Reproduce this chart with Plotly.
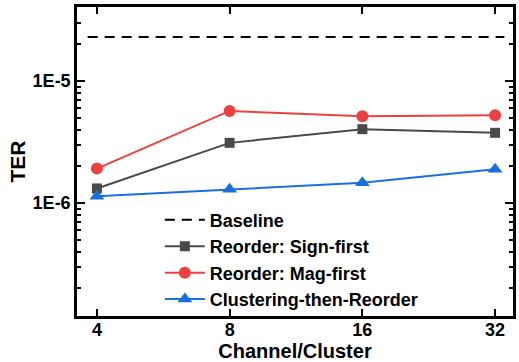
import plotly.graph_objects as go
import numpy as np

categories = ["4", "8", "16", "32"]
sign_first = [1.32e-6, 3.12e-6, 4.04e-6, 3.77e-6]
mag_first = [1.92e-6, 5.7e-6, 5.16e-6, 5.26e-6]
clustering = [1.14e-6, 1.3e-6, 1.47e-6, 1.9e-6]
baseline_value = 2.3e-5

xpos = list(range(len(categories)))
font = "Liberation Sans, Arial, sans-serif"

fig = go.Figure()
fig.add_trace(go.Scatter(x=[-0.07, len(categories) - 1 + 0.07], y=[baseline_value, baseline_value],
                         mode="lines", name="Baseline",
                         line=dict(color="black", width=2, dash="10px,7px")))
fig.add_trace(go.Scatter(x=xpos, y=sign_first, mode="lines+markers", name="Reorder: Sign-first",
                         line=dict(color="#4a4a4a", width=2),
                         marker=dict(symbol="square", size=10, color="#4a4a4a")))
fig.add_trace(go.Scatter(x=xpos, y=mag_first, mode="lines+markers", name="Reorder: Mag-first",
                         line=dict(color="#ef4040", width=2),
                         marker=dict(symbol="circle", size=12, color="#ef4040")))
fig.add_trace(go.Scatter(x=xpos, y=clustering, mode="lines+markers", name="Clustering-then-Reorder",
                         line=dict(color="#1a6fe0", width=2),
                         marker=dict(symbol="triangle-up", size=13, color="#1a6fe0")))

minor_vals = [m * 10.0 ** e for e in (-7, -6, -5) for m in range(2, 10)]

fig.update_layout(
    width=519, height=362,
    margin=dict(l=77, r=3, t=7, b=46),
    plot_bgcolor="white", paper_bgcolor="white",
    font=dict(family=font, size=16, color="black"),
    showlegend=True,
    legend=dict(x=0.19, y=0.37, xanchor="left", yanchor="top",
                bgcolor="rgba(0,0,0,0)", font=dict(size=18, family=font, weight="bold"),
                tracegroupgap=0, itemwidth=40),
)
fig.update_xaxes(
    range=[-0.15, 3.135], tickvals=xpos, ticktext=categories,
    showgrid=False, zeroline=False,
    showline=True, linecolor="black", linewidth=2.5, mirror="ticks",
    ticks="inside", ticklen=7, tickwidth=2, tickcolor="black",
    tickfont=dict(size=18, family=font, weight="bold"), ticklabelstandoff=-4,
    title=dict(text="Channel/Cluster", font=dict(size=20, family=font, weight="bold"), standoff=4),
)
fig.update_yaxes(
    type="log", range=[np.log10(1.19e-7), np.log10(4.05e-5)],
    tickvals=[1e-6, 1e-5], ticktext=["1E-6", "1E-5"],
    showgrid=False, zeroline=False,
    showline=True, linecolor="black", linewidth=2.5, mirror="ticks",
    ticks="inside", ticklen=8, tickwidth=2, tickcolor="black",
    tickfont=dict(size=18, family=font, weight="bold"),
    minor=dict(tickvals=minor_vals, ticks="inside", ticklen=4, tickwidth=1.5, tickcolor="black", showgrid=False),
    title=dict(text="TER", font=dict(size=21, family=font, weight="bold"), standoff=2),
)
fig.write_html("out.html")
